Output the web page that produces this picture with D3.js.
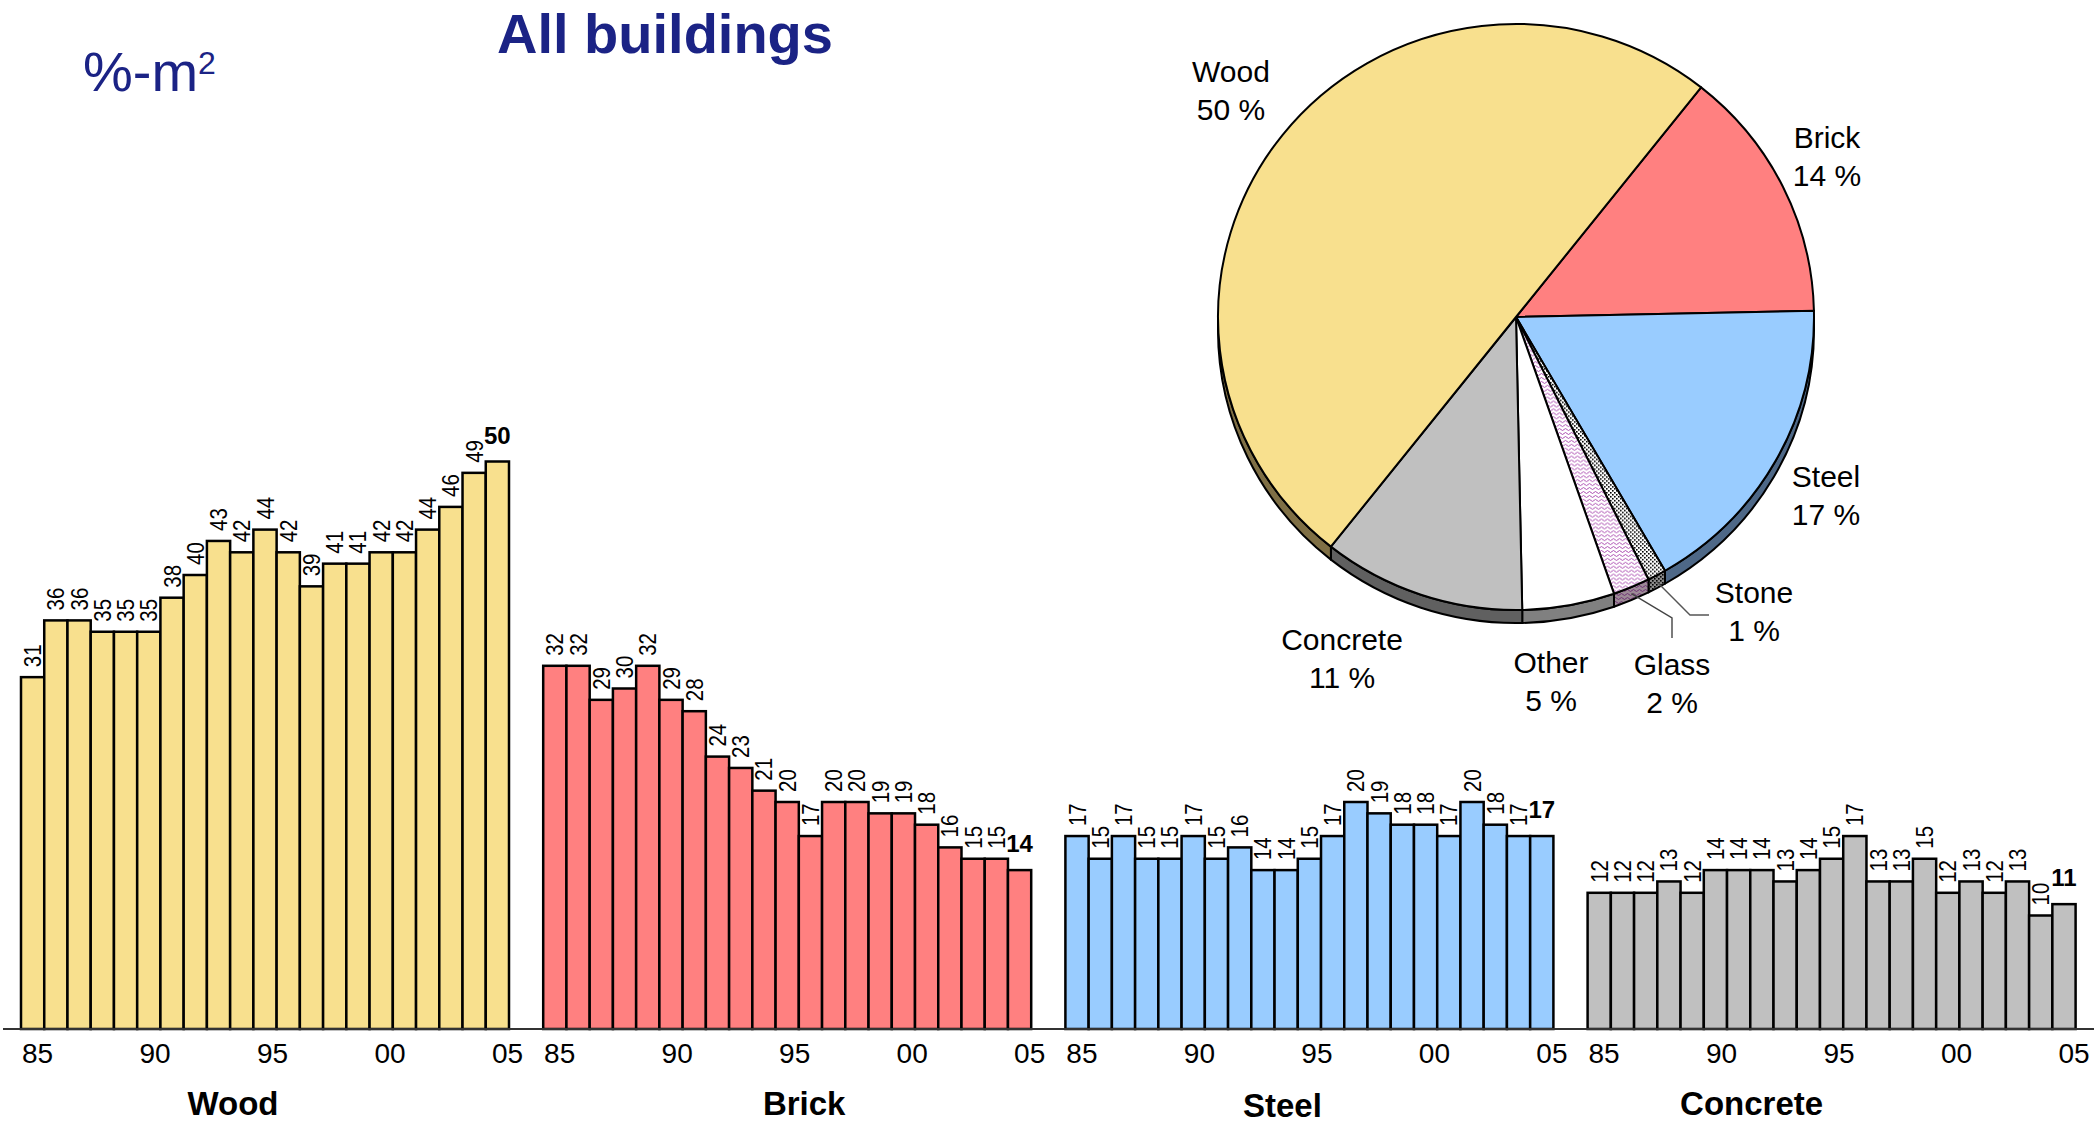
<!DOCTYPE html>
<html><head><meta charset="utf-8">
<script src="https://cdn.jsdelivr.net/npm/d3@7"></script>
<style>
body{margin:0;background:#fff}
svg{display:block}
text{font-family:"Liberation Sans",Arial,Helvetica,sans-serif}
</style>
</head><body>
<svg id="c" width="2094" height="1123"></svg>
<script>
// ---------- data ----------
const years = [1985,1986,1987,1988,1989,1990,1991,1992,1993,1994,1995,1996,1997,1998,1999,2000,2001,2002,2003,2004,2005];
const wood     = [31,36,36,35,35,35,38,40,43,42,44,42,39,41,41,42,42,44,46,49,50];
const brick    = [32,32,29,30,32,29,28,24,23,21,20,17,20,20,19,19,18,16,15,15,14];
const steel    = [17,15,17,15,15,17,15,16,14,14,15,17,20,19,18,18,17,20,18,17,17];
const concrete = [12,12,12,13,12,14,14,14,13,14,15,17,13,13,15,12,13,12,13,10,11];
const materials = ["Wood","Brick","Steel","Concrete"];
const tickYears  = [1985,1990,1995,2000,2005];
const tickLabels = ["85","90","95","00","05"];
const pieNames  = ["Brick","Steel","Stone","Glass","Other","Concrete","Wood"];
const pieValues = [14,17,1,2,5,11,50];

// ---------- layout / style ----------
const svg = d3.select("#c");
const FONT = '"Liberation Sans",Arial,Helvetica,sans-serif';
const baseY = 1029;
const y = d3.scaleLinear().domain([0, 50]).range([baseY, baseY - 567.5]);
const panelX0 = 21, panelStep = 522.2, panelW = 488;
const fills = {Wood:"#F8E08E", Brick:"#FF8080", Steel:"#99CCFF", Concrete:"#C0C0C0",
               Stone:"url(#stonePat)", Glass:"url(#glassPat)", Other:"#FFFFFF"};
const sideFills = {Wood:"#7F6F45", Brick:"#804040", Steel:"#4E6887", Concrete:"#606060",
               Stone:"url(#stoneSide)", Glass:"url(#glassSide)", Other:"#808080"};
const seriesList = [wood, brick, steel, concrete];
const titleCx = [212, 261, 217, 164];
const titleBase = [1115, 1115, 1117, 1115];
const navy = "#1B2385";

// patterns
const defs = svg.append("defs");
function pat(id, bg, fg, kind){
  const p = defs.append("pattern").attr("id", id).attr("patternUnits","userSpaceOnUse");
  if (kind === "wave"){
    p.attr("width",6).attr("height",4);
    p.append("rect").attr("width",6).attr("height",4).attr("fill",bg);
    p.append("path").attr("d","M0,2.5 Q1.5,0.5 3,2.5 T6,2.5").attr("fill","none").attr("stroke",fg).attr("stroke-width",0.9);
  } else {
    p.attr("width",4).attr("height",4);
    p.append("rect").attr("width",4).attr("height",4).attr("fill",bg);
    p.append("rect").attr("x",0).attr("y",0).attr("width",1.6).attr("height",1.6).attr("fill",fg);
    p.append("rect").attr("x",2).attr("y",2).attr("width",1.6).attr("height",1.6).attr("fill",fg);
  }
}
pat("glassPat", "#FFFFFF", "#A23AA8", "wave");
pat("glassSide", "#9C8A96", "#6A2A70", "wave");
pat("stonePat", "#FFFFFF", "#000000", "dot");
pat("stoneSide", "#8A8A8A", "#000000", "dot");

// ---------- titles ----------
svg.append("text").attr("x", 497).attr("y", 53)
  .attr("font-size", 56).attr("font-weight", "bold").attr("fill", navy)
  .text("All buildings");
const unit = svg.append("text").attr("x", 83).attr("y", 91)
  .attr("font-size", 56).attr("fill", navy);
unit.append("tspan").text("%-m");
unit.append("tspan").attr("font-size", 32).attr("dy", -17).text("2");

// ---------- bar panels ----------
seriesList.forEach((vals, i) => {
  const name = materials[i];
  const px = panelX0 + i * panelStep;
  const x = d3.scaleBand().domain(years).range([px, px + panelW]).padding(0);
  const g = svg.append("g");
  const data = years.map((yr, j) => ({yr, v: vals[j], last: j === years.length - 1}));

  g.selectAll("rect").data(data).join("rect")
    .attr("x", d => x(d.yr)).attr("y", d => y(d.v))
    .attr("width", x.bandwidth()).attr("height", d => y(0) - y(d.v))
    .attr("fill", fills[name]).attr("stroke", "#000").attr("stroke-width", 2.5);

  g.selectAll("text.rl").data(data.filter(d => !d.last)).join("text")
    .attr("class", "rl")
    .attr("transform", d => `translate(${x(d.yr) + x.bandwidth()/2 + 8.5},${y(d.v) - 10}) scale(1.15,1) rotate(-90)`)
    .attr("font-size", 20.5).attr("fill", "#000")
    .text(d => d.v);

  g.selectAll("text.bl").data(data.filter(d => d.last)).join("text")
    .attr("class", "bl")
    .attr("x", d => x(d.yr) + x.bandwidth()/2).attr("y", d => y(d.v) - 18)
    .attr("text-anchor", "middle").attr("font-size", 24).attr("font-weight", "bold")
    .text(d => d.v);

  const xt = d3.scaleLinear().domain([1985, 2005]).range([px + 16, px + 486]);
  const ax = svg.append("g").attr("transform", `translate(0,${baseY})`)
    .call(d3.axisBottom(xt).tickValues(tickYears).tickFormat((d, k) => tickLabels[k]).tickSize(0).tickPadding(14));
  ax.select(".domain").remove();
  ax.attr("font-size", 28).attr("font-family", FONT);
  ax.selectAll("text").attr("fill", "#000");

  svg.append("text").attr("x", px + titleCx[i]).attr("y", titleBase[i])
    .attr("text-anchor", "middle").attr("font-size", 33).attr("font-weight", "bold")
    .text(name);
});

// baseline
svg.append("line").attr("x1", 3).attr("x2", 2094).attr("y1", baseY).attr("y2", baseY)
  .attr("stroke", "#333").attr("stroke-width", 2);

// ---------- pie ----------
const cx = 1516, cy = 317, rx = 298, ry = 293, depth = 13;
const start = 38.4 * Math.PI / 180;
const pieData = d3.pie().sort(null).value(d => d.v).startAngle(start).endAngle(start + 2 * Math.PI)(
  pieNames.map((n, k) => ({name: n, v: pieValues[k]})));
const P = (a, dy = 0) => [cx + rx * Math.sin(a), cy - ry * Math.cos(a) + dy];

// sides
const sideG = svg.append("g");
pieData.forEach(s => {
  [0, -2 * Math.PI].forEach(off => {
    const lo = Math.max(s.startAngle + off, Math.PI / 2);
    const hi = Math.min(s.endAngle + off, 3 * Math.PI / 2);
    if (hi > lo) {
      const a = P(lo), b = P(hi), b2 = P(hi, depth), a2 = P(lo, depth);
      const large = (hi - lo) > Math.PI ? 1 : 0;
      const d = `M${a}A${rx},${ry} 0 ${large} 1 ${b}L${b2}A${rx},${ry} 0 ${large} 0 ${a2}Z`;
      sideG.append("path").attr("d", d).attr("fill", sideFills[s.data.name])
        .attr("stroke", "#000").attr("stroke-width", 2).attr("stroke-linejoin", "round");
    }
  });
});

// top faces
const arc = d3.arc().innerRadius(0).outerRadius(rx);
const topG = svg.append("g").attr("transform", `translate(${cx},${cy}) scale(1,${ry / rx})`);
topG.selectAll("path").data(pieData).join("path")
  .attr("d", arc).attr("fill", d => fills[d.data.name])
  .attr("stroke", "#000").attr("stroke-width", 2).attr("vector-effect", "non-scaling-stroke")
  .attr("stroke-linejoin", "round");

// pie labels
const labelPos = {Wood:[1231,82], Brick:[1827,148], Steel:[1826,487], Stone:[1754,603],
                  Glass:[1672,675], Other:[1551,673], Concrete:[1342,650]};
pieData.forEach(s => {
  const [lx, ly] = labelPos[s.data.name];
  const t = svg.append("text").attr("x", lx).attr("y", ly).attr("text-anchor", "middle")
    .attr("font-size", 30).attr("fill", "#000");
  t.append("tspan").attr("x", lx).text(s.data.name);
  t.append("tspan").attr("x", lx).attr("dy", 37.5).text(s.data.v + " %");
});

// leader lines for small slices
const byName = Object.fromEntries(pieData.map(s => [s.data.name, s]));
const mid = s => (s.startAngle + s.endAngle) / 2;
const stoneStart = P(mid(byName.Stone), depth * 0.5);
const glassStart = P(mid(byName.Glass), depth * 0.5);
svg.append("polyline").attr("points", [stoneStart, [1690, 615], [1709, 615]].join(" "))
  .attr("fill", "none").attr("stroke", "#555").attr("stroke-width", 1.4);
svg.append("polyline").attr("points", [glassStart, [1672, 618], [1672, 638]].join(" "))
  .attr("fill", "none").attr("stroke", "#444").attr("stroke-width", 1.4);
</script>
</body></html>
